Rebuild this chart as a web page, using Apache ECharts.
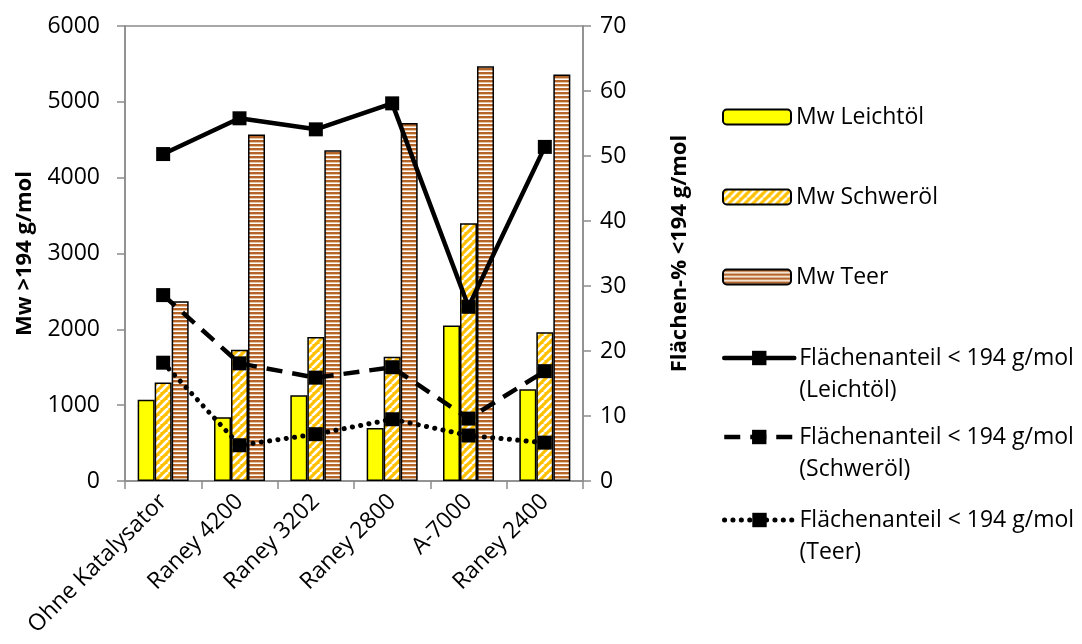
<!DOCTYPE html>
<html>
<head>
<meta charset="utf-8">
<script src="https://cdn.jsdelivr.net/npm/echarts@6/dist/echarts.min.js"></script>
<style>
  html, body { margin: 0; padding: 0; background: #fff; }
  #chart { width: 1082px; height: 644px; }
</style>
</head>
<body>
<div id="chart"></div>
<script>
// Catalysts on the x axis
const categories = ['Ohne Katalysator', 'Raney 4200', 'Raney 3202', 'Raney 2800', 'A-7000', 'Raney 2400'];

// Mean molecular weight of the fractions (g/mol), left axis
const mwLeichtoel = [1070, 840, 1130, 700, 2050, 1210];
const mwSchweroel = [1300, 1730, 1900, 1640, 3400, 1960];
const mwTeer = [2370, 4570, 4360, 4720, 5470, 5360];

// Area share below 194 g/mol (%), right axis
const anteilLeichtoel = [50.3, 55.8, 54.1, 58.1, 26.8, 51.4];
const anteilSchweroel = [28.6, 18.1, 15.9, 17.5, 9.6, 16.9];
const anteilTeer = [18.2, 5.5, 7.2, 9.5, 7.0, 5.9];

const seriesNames = [
  'Mw Leichtöl',
  'Mw Schweröl',
  'Mw Teer',
  'Flächenanteil < 194 g/mol\n(Leichtöl)',
  'Flächenanteil < 194 g/mol\n(Schweröl)',
  'Flächenanteil < 194 g/mol\n(Teer)'
];

const FONT = '"Open Sans", "Liberation Sans", sans-serif';

// Upward diagonal orange/white hatch
function diagonalPattern() {
  const s = 8;
  const c = document.createElement('canvas');
  c.width = s; c.height = s;
  const g = c.getContext('2d');
  g.fillStyle = '#FFC000';
  g.fillRect(0, 0, s, s);
  g.strokeStyle = '#FFFFFF';
  g.lineWidth = 2.6;
  for (let k = -1; k <= 1; k++) {
    g.beginPath();
    g.moveTo(k * s, s);
    g.lineTo(k * s + s, 0);
    g.stroke();
  }
  return c;
}

// Narrow horizontal brown stripes
function horizontalPattern() {
  const c = document.createElement('canvas');
  c.width = 4; c.height = 4;
  const g = c.getContext('2d');
  g.fillStyle = '#B5652A';
  g.fillRect(0, 0, 4, 2);
  g.fillStyle = '#E9C4A2';
  g.fillRect(0, 2, 4, 1);
  g.fillStyle = '#FFFFFF';
  g.fillRect(0, 3, 4, 1);
  return c;
}

const hatchFill = { image: diagonalPattern(), repeat: 'repeat' };
const stripeFill = { image: horizontalPattern(), repeat: 'repeat' };

const axisGray = '#8C8C8C';

function barSeries(name, data, color) {
  return {
    name: name,
    type: 'bar',
    yAxisIndex: 0,
    data: data,
    barWidth: 17,
    barGap: '0%',
    itemStyle: { color: color, borderColor: '#000', borderWidth: 1.5 },
    emphasis: { disabled: true }
  };
}

function lineSeries(name, data, lineType, cap, width) {
  return {
    name: name,
    type: 'line',
    yAxisIndex: 1,
    data: data,
    symbol: 'rect',
    symbolSize: 14,
    z: 5,
    itemStyle: { color: '#000' },
    lineStyle: { color: '#000', width: width, type: lineType, cap: cap },
    emphasis: { disabled: true }
  };
}

// One legend block per entry; line entries keep their first text line beside the icon
function legendItem(name, top, lineWidth) {
  const isLine = lineWidth > 0;
  const leg = {
    data: [name],
    left: 722,
    top: top,
    padding: 0,
    itemWidth: isLine ? 70 : 68,
    itemHeight: isLine ? 18 : 15,
    selectedMode: false,
    textStyle: { fontFamily: FONT, fontSize: 23, color: '#000', lineHeight: 32 }
  };
  if (isLine) {
    leg.formatter = n => '\n' + n;
    leg.lineStyle = { width: lineWidth };
  }
  return leg;
}

const chart = echarts.init(document.getElementById('chart'), null, { renderer: 'canvas' });

chart.setOption({
  animation: false,
  backgroundColor: '#fff',
  grid: {
    left: 125, right: 499, top: 26, bottom: 163,
    show: true, borderColor: axisGray, borderWidth: 1.5, backgroundColor: 'transparent'
  },
  legend: [
    legendItem(seriesNames[0], 101, 0),
    legendItem(seriesNames[1], 181, 0),
    legendItem(seriesNames[2], 261, 0),
    legendItem(seriesNames[3], 310, 4.5),
    legendItem(seriesNames[4], 389, 4.5),
    legendItem(seriesNames[5], 472, 5)
  ],
  xAxis: {
    type: 'category',
    data: categories,
    axisLine: { lineStyle: { color: axisGray, width: 1.5 } },
    axisTick: { show: true, inside: false, length: 8, alignWithLabel: false, lineStyle: { color: axisGray, width: 1.5 } },
    axisLabel: { rotate: 45, margin: 17, fontFamily: FONT, fontSize: 23, color: '#000', interval: 0 }
  },
  yAxis: [
    {
      type: 'value',
      min: 0, max: 6000, interval: 1000,
      name: 'Mw >194 g/mol',
      nameLocation: 'middle',
      nameGap: 89,
      nameTextStyle: { fontFamily: FONT, fontSize: 22, fontWeight: 'bold', color: '#000' },
      axisLine: { show: true, lineStyle: { color: axisGray, width: 1.5 } },
      axisTick: { show: true, length: 8, lineStyle: { color: axisGray, width: 1.5 } },
      axisLabel: { margin: 25, fontFamily: FONT, fontSize: 23, color: '#000', formatter: v => String(v) },
      splitLine: { show: false }
    },
    {
      type: 'value',
      min: 0, max: 70, interval: 10,
      position: 'right',
      name: 'Flächen-% <194 g/mol',
      nameLocation: 'middle',
      nameGap: 86,
      nameRotate: 90,
      nameTextStyle: { fontFamily: FONT, fontSize: 22, fontWeight: 'bold', color: '#000' },
      axisLine: { show: true, lineStyle: { color: axisGray, width: 1.5 } },
      axisTick: { show: true, length: 8, lineStyle: { color: axisGray, width: 1.5 } },
      axisLabel: { margin: 17, fontFamily: FONT, fontSize: 23, color: '#000' },
      splitLine: { show: false }
    }
  ],
  series: [
    barSeries(seriesNames[0], mwLeichtoel, '#FFFF00'),
    barSeries(seriesNames[1], mwSchweroel, hatchFill),
    barSeries(seriesNames[2], mwTeer, stripeFill),
    lineSeries(seriesNames[3], anteilLeichtoel, 'solid', 'round', 4.5),
    lineSeries(seriesNames[4], anteilSchweroel, [16, 10], 'butt', 4.5),
    lineSeries(seriesNames[5], anteilTeer, [0.1, 8.3], 'round', 5)
  ]
});
</script>
</body>
</html>
